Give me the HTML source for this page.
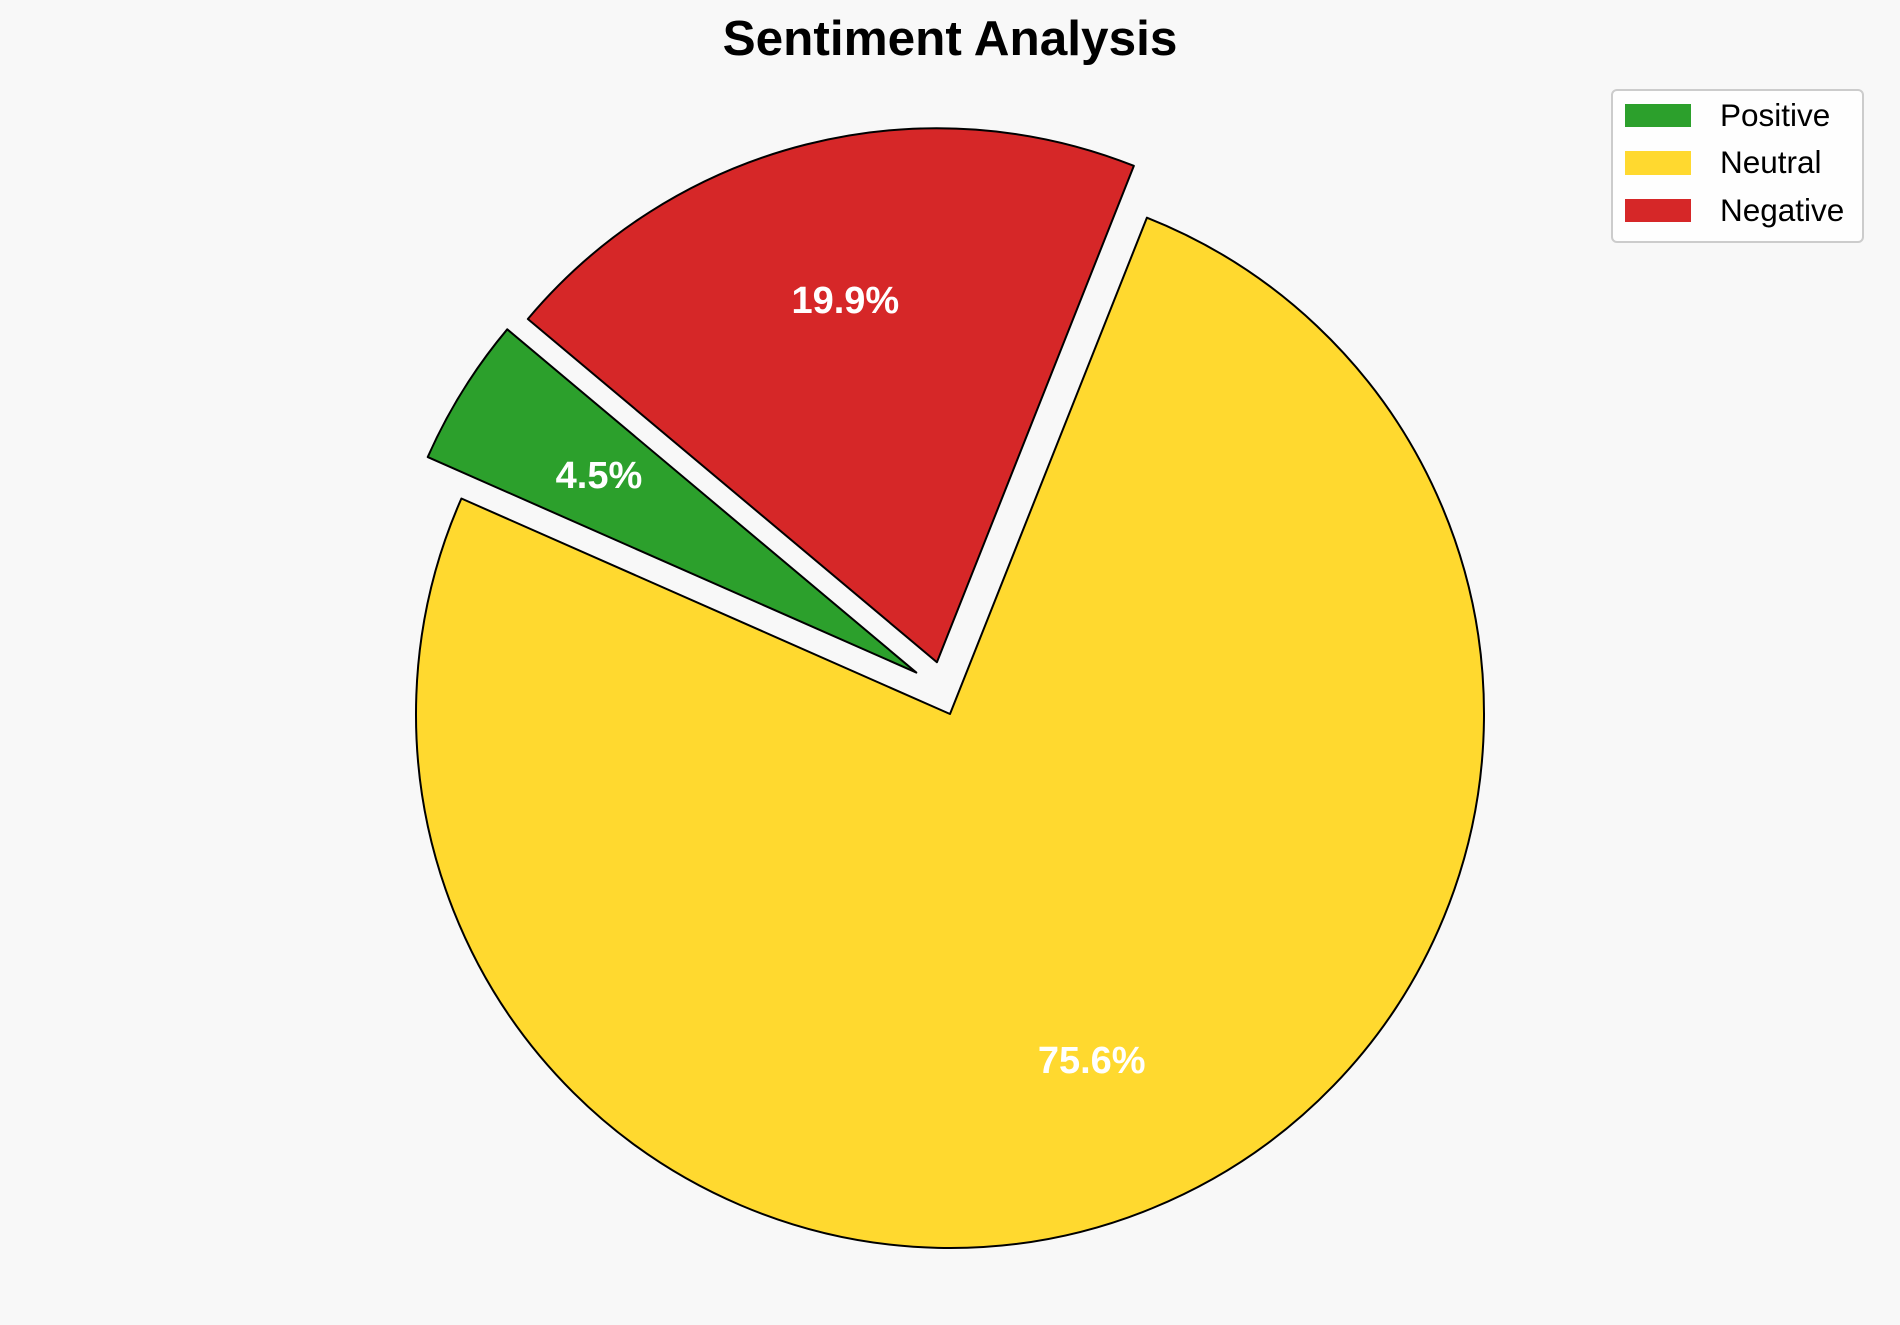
<!DOCTYPE html>
<html><head><meta charset="utf-8"><style>
html,body{margin:0;padding:0;background:#f8f8f8;}
svg{display:block;font-family:"Liberation Sans",Arial,sans-serif;}
</style></head><body>
<svg id="chart" width="1900" height="1325" viewBox="0 0 1900 1325">
<rect width="1900" height="1325" fill="#f8f8f8"/>
<text x="950" y="55" text-anchor="middle" font-size="49.5" font-weight="bold" fill="#000">Sentiment Analysis</text>
<g id="pie"></g>
<g>
<rect x="1612" y="90" width="251" height="152" rx="5" fill="#fff" fill-opacity="0.8" stroke="#ccc" stroke-width="2"/>
<g><rect x="1625" y="104" width="66" height="23" fill="#2ca02c"/><text x="1720" y="126" font-size="31.5" fill="#000">Positive</text></g>
<g><rect x="1625" y="151" width="66" height="24" fill="#ffd92f"/><text x="1720" y="173" font-size="31.5" fill="#000">Neutral</text></g>
<g><rect x="1625" y="199" width="66" height="23" fill="#d62728"/><text x="1720" y="221" font-size="31.5" fill="#000">Negative</text></g>
</g>
</svg>
<script>
const categories = ["Positive", "Neutral", "Negative"];
const values = [4.5, 75.6, 19.9];
const explode = [0.1, 0, 0.1];
const colors = ["#2ca02c", "#ffd92f", "#d62728"];
const cx = 950, cy = 714, R = 534, startAngle = 140, pctDist = 0.7;
const ns = "http://www.w3.org/2000/svg";
const g = document.getElementById("pie");
const total = values.reduce((a, b) => a + b, 0);
let a0 = startAngle;
values.forEach((v, i) => {
  const sweep = v / total * 360;
  const a1 = a0 + sweep;
  const mid = (a0 + a1) / 2 * Math.PI / 180;
  // small slices appear pushed slightly more upward in the reference
  const expAng = sweep < 30 ? mid - 19 * Math.PI / 180 : mid;
  const ox = cx + explode[i] * R * Math.cos(expAng);
  const oy = cy - explode[i] * R * Math.sin(expAng);
  const r0 = a0 * Math.PI / 180, r1 = a1 * Math.PI / 180;
  const x0 = ox + R * Math.cos(r0), y0 = oy - R * Math.sin(r0);
  const x1 = ox + R * Math.cos(r1), y1 = oy - R * Math.sin(r1);
  const large = sweep > 180 ? 1 : 0;
  const p = document.createElementNS(ns, "path");
  p.setAttribute("d", `M${ox},${oy} L${x0},${y0} A${R},${R} 0 ${large} 0 ${x1},${y1} Z`);
  p.setAttribute("fill", colors[i]);
  p.setAttribute("stroke", "#000");
  p.setAttribute("stroke-width", "2");
  p.setAttribute("stroke-linejoin", "round");
  
  
  g.appendChild(p);
  const t = document.createElementNS(ns, "text");
  t.setAttribute("x", ox + pctDist * R * Math.cos(mid));
  t.setAttribute("y", oy - pctDist * R * Math.sin(mid) + 13);
  t.setAttribute("text-anchor", "middle");
  t.setAttribute("font-size", "38");
  t.setAttribute("font-weight", "bold");
  t.setAttribute("fill", "#fff");
  t.textContent = v.toFixed(1) + "%";
  
  
  g.appendChild(t);
  a0 = a1;
});
</script>
</body></html>
